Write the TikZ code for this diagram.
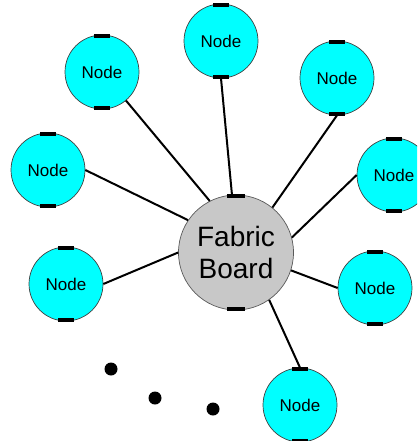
\documentclass[tikz,border=0pt]{standalone}
\usepackage{fontspec}
\setmainfont{Liberation Sans}
\definecolor{aquafill}{RGB}{0,255,255}
\definecolor{boardfill}{RGB}{200,200,200}
\begin{document}
\begin{tikzpicture}[x=1pt,y=-1pt,
  peer/.style={circle, draw=black!75, line width=0.7pt, fill=aquafill,
    minimum size=74pt, inner sep=0pt, font=\fontsize{17}{20}\selectfont},
  hub/.style={circle, draw=black!65, line width=0.7pt, fill=boardfill,
    minimum size=115pt, inner sep=0pt, align=center,
    font=\fontsize{28}{32}\selectfont},
  link/.style={line width=2pt},
  tab/.style={line width=3.5pt},
  dot/.style={circle, fill=black, minimum size=13pt, inner sep=0pt}]
\clip (0,0) rectangle (417,441);
\useasboundingbox (0,0) rectangle (417,441);

% central board
\node[hub] (fb) at (236,252.5) {Fabric\\Board};

% surrounding nodes
\node[peer] (n1) at (221,41)  {Node};
\node[peer] (n2) at (102,72)  {Node};
\node[peer] (n3) at (337,78)  {Node};
\node[peer] (n4) at (48,170)  {Node};
\node[peer] (n5) at (394,175) {Node};
\node[peer] (n6) at (66,284)  {Node};
\node[peer] (n7) at (375,288) {Node};
\node[peer] (n8) at (300,405) {Node};

% links from the board to each node
\draw[link] (fb.94)  -- (n1.south);
\draw[link] (fb.117) -- (n2.-50);
\draw[link] (fb.51)  -- (n3.south);
\draw[link] (fb.146) -- (n4.east);
\draw[link] (fb.15)  -- (n5.west);
\draw[link] (fb.180) -- (n6.east);
\draw[link] (fb.-18) -- (n7.west);
\draw[link] (fb.-55) -- (n8.north);

% small tabs on top and bottom of every circle
\foreach \n in {n1,n2,n3,n4,n5,n6,n7,n8} {
  \draw[tab] ([xshift=-8pt,yshift=-1.5pt]\n.north) -- ([xshift=8pt,yshift=-1.5pt]\n.north);
  \draw[tab] ([xshift=-8pt,yshift=1.5pt]\n.south) -- ([xshift=8pt,yshift=1.5pt]\n.south);
}
\draw[tab] ([xshift=-9pt,yshift=-1.5pt]fb.north) -- ([xshift=9pt,yshift=-1.5pt]fb.north);
\draw[tab] ([xshift=-9pt,yshift=1.5pt]fb.south) -- ([xshift=9pt,yshift=1.5pt]fb.south);

% ellipsis dots
\node[dot] (d1) at (111,369) {};
\node[dot] (d2) at (155,398) {};
\node[dot] (d3) at (213,409) {};
\end{tikzpicture}
\end{document}
